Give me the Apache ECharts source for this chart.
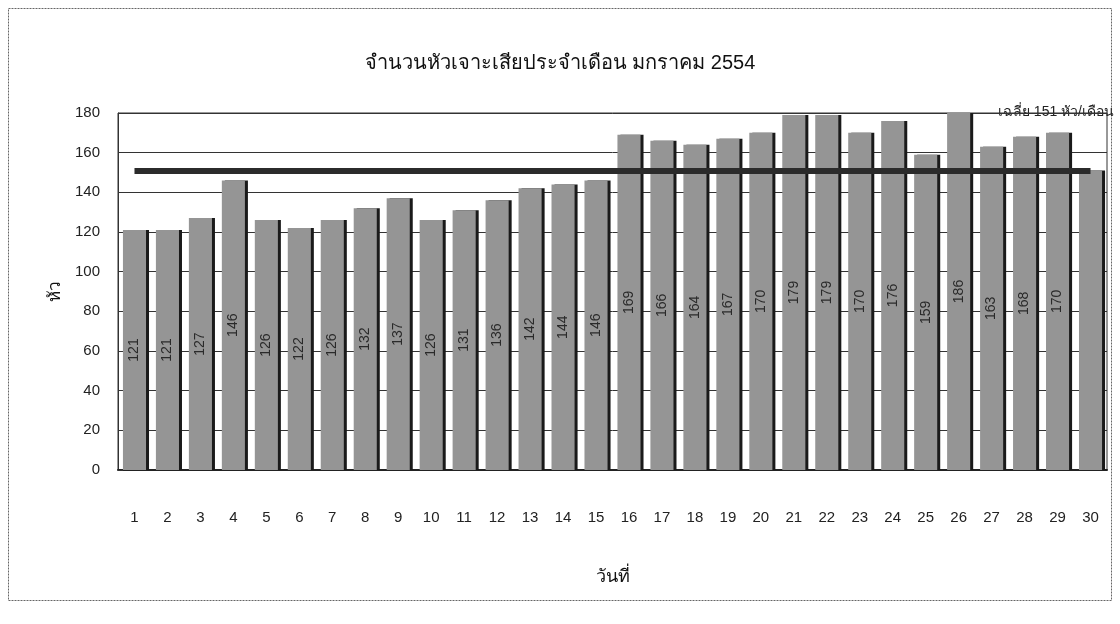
<!DOCTYPE html>
<html>
<head>
<meta charset="utf-8">
<script src="https://cdn.jsdelivr.net/npm/echarts@6/dist/echarts.min.js"></script>
<style>
  html, body { margin: 0; padding: 0; background: #fff; }
  #chart { width: 1120px; height: 624px; }
</style>
</head>
<body>
<div id="chart"></div>
<script>
// Days of January 2554 and the number of damaged heads counted each day
const days = ['1','2','3','4','5','6','7','8','9','10','11','12','13','14','15',
              '16','17','18','19','20','21','22','23','24','25','26','27','28','29','30'];
const heads = [121,121,127,146,126,122,126,132,137,126,131,136,142,144,146,
               169,166,164,167,170,179,179,170,176,159,186,163,168,170,151];
// Days whose value is printed inside the bar (the last day carries no label)
const labelledDays = 29;
const monthlyAverage = 151;
const yTicks = { min: 0, max: 180, interval: 20 };

const titleText = 'จำนวนหัวเจาะเสียประจำเดือน มกราคม 2554';
const yName = 'หัว';
const xName = 'วันที่';
const averageText = 'เฉลี่ย ' + monthlyAverage + ' หัว/เดือน';

const font = "'Liberation Sans', 'Noto Sans', sans-serif";

const chart = echarts.init(document.getElementById('chart'), null, { renderer: 'canvas' });

chart.setOption({
  backgroundColor: '#ffffff',
  animation: false,
  title: {
    text: titleText,
    left: 'center',
    top: 48,
    textStyle: { fontFamily: font, fontSize: 20, fontWeight: 'normal', color: '#111' }
  },
  graphic: [
    {
      type: 'rect',
      shape: { x: 8.5, y: 8.5, width: 1103, height: 592 },
      style: { fill: 'none', stroke: '#666', lineWidth: 1, lineDash: [2, 1] },
      silent: true
    },
    {
      type: 'text',
      right: 6,
      top: 105,
      style: { text: averageText, font: '14px ' + font, fill: '#222' },
      silent: true
    }
  ],
  grid: {
    left: 118, right: 13, top: 113, bottom: 154,
    show: true, borderColor: '#333', borderWidth: 1
  },
  xAxis: {
    type: 'category',
    data: days,
    name: xName,
    nameLocation: 'middle',
    nameGap: 98,
    nameTextStyle: { fontFamily: font, fontSize: 18, color: '#111' },
    axisLine: { lineStyle: { color: '#222', width: 2 } },
    axisTick: { show: false },
    axisLabel: { fontFamily: font, fontSize: 15, color: '#222', margin: 40 }
  },
  yAxis: {
    type: 'value',
    min: yTicks.min, max: yTicks.max, interval: yTicks.interval,
    name: yName,
    nameLocation: 'middle',
    nameGap: 50,
    nameRotate: 90,
    nameTextStyle: { fontFamily: font, fontSize: 17, color: '#111' },
    axisLine: { show: true, lineStyle: { color: '#333', width: 1 } },
    axisTick: { show: true, inside: true, length: 5, lineStyle: { color: '#333' } },
    axisLabel: { fontFamily: font, fontSize: 15, color: '#222', margin: 18 },
    splitLine: { lineStyle: { color: '#333', width: 1 } }
  },
  series: [{
    type: 'bar',
    data: heads.map((v, i) => ({
      value: v,
      label: { show: i < labelledDays }
    })),
    barCategoryGap: '30%',
    itemStyle: {
      color: '#959595',
      shadowColor: '#1a1a1a',
      shadowBlur: 0,
      shadowOffsetX: 3,
      shadowOffsetY: 0
    },
    label: {
      position: 'inside',
      rotate: 90,
      fontFamily: font,
      fontSize: 14,
      color: '#2a2a2a'
    },
    // Monthly average drawn from the first day to the last day
    markLine: {
      silent: true,
      symbol: ['none', 'none'],
      label: { show: false },
      lineStyle: { color: '#2b2b2b', width: 6, type: 'solid' },
      data: [[
        { coord: [days[0], monthlyAverage] },
        { coord: [days[days.length - 1], monthlyAverage] }
      ]]
    }
  }]
});
</script>
</body>
</html>
